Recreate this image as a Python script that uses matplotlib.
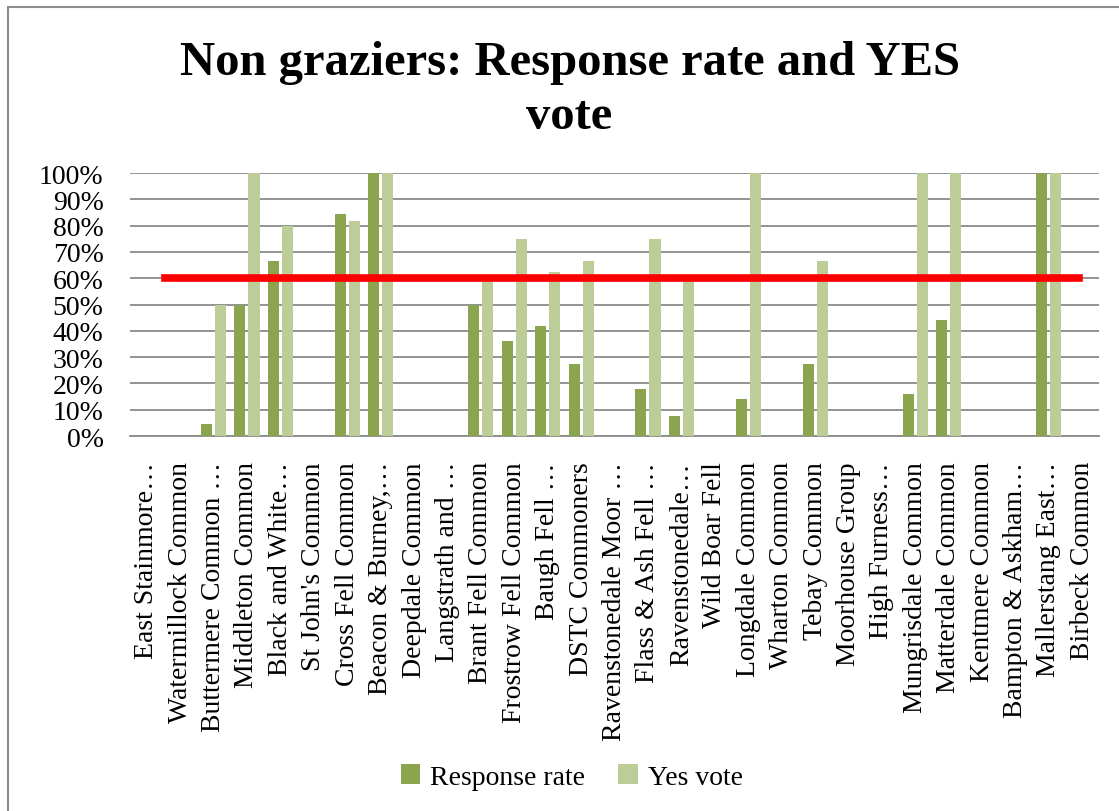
import numpy as np
import matplotlib
matplotlib.use("Agg")
import matplotlib.pyplot as plt
from matplotlib.patches import Rectangle
from matplotlib.ticker import PercentFormatter

# commons, in survey order
commons = [
    "East Stainmore…", "Watermillock Common", "Buttermere Common …",
    "Middleton Common", "Black and White…", "St John's Common",
    "Cross Fell Common", "Beacon & Burney,…", "Deepdale Common",
    "Langstrath and …", "Brant Fell Common", "Frostrow Fell Common",
    "Baugh Fell …", "DSTC Commoners", "Ravenstonedale Moor …",
    "Flass & Ash Fell …", "Ravenstonedale…", "Wild Boar Fell",
    "Longdale Common", "Wharton Common", "Tebay Common",
    "Moorhouse Group", "High Furness…", "Mungrisdale Common",
    "Matterdale Common", "Kentmere Common", "Bampton & Askham…",
    "Mallerstang East…", "Birbeck Common",
]

response_rate = [
    0, 0, 0.045, 0.50, 0.667, 0, 0.844, 1.00, 0, 0,
    0.50, 0.361, 0.42, 0.273, 0, 0.18, 0.076, 0, 0.142, 0,
    0.273, 0, 0, 0.161, 0.442, 0, 0, 1.00, 0,
]

yes_vote = [
    0, 0, 0.50, 1.00, 0.80, 0, 0.818, 1.00, 0, 0,
    0.60, 0.75, 0.625, 0.667, 0, 0.75, 0.60, 0, 1.00, 0,
    0.667, 0, 0, 1.00, 1.00, 0, 0, 1.00, 0,
]

threshold = 0.60

dark_green = "#8ba54e"
light_green = "#bccd98"
grid_grey = "#8a8a8a"

plt.rcParams["font.family"] = ["Liberation Serif", "DejaVu Serif"]

fig = plt.figure(figsize=(11.19, 8.12), dpi=100)
ax = fig.add_axes([0.1162, 0.4618, 0.8660, 0.3239])

x = np.arange(len(commons))
ax.bar(x - 0.21, response_rate, width=0.33, color=dark_green,
       label="Response rate", zorder=3)
ax.bar(x + 0.21, yes_vote, width=0.33, color=light_green,
       label="Yes vote", zorder=3)

# 60% pass mark
ax.axhline(threshold, xmin=0.036, xmax=0.979, color="#ff0000",
           linewidth=5.5, zorder=4)

ax.set_xlim(-0.5, len(commons) - 0.5)
ax.set_ylim(0, 1)
ax.set_yticks(np.arange(0, 1.01, 0.1))
ax.yaxis.set_major_formatter(PercentFormatter(1.0, decimals=0))
ax.grid(axis="y", color=grid_grey, linewidth=1.3, zorder=0)
ax.set_axisbelow(True)
for side in ["left", "right", "top"]:
    ax.spines[side].set_visible(False)
ax.spines["bottom"].set_color(grid_grey)
ax.spines["bottom"].set_linewidth(1.3)

ax.set_xticks(x)
ax.set_xticklabels(commons, rotation=90, fontsize=20)
ax.tick_params(axis="x", length=0, pad=18)
ax.tick_params(axis="y", length=0, pad=19, labelsize=20)

fig.text(0.509, 0.889, "Non graziers: Response rate and YES\nvote",
         ha="center", va="center", fontsize=35, fontweight="bold",
         linespacing=1.3)

fig.legend(loc="center", bbox_to_anchor=(0.511, 0.042), ncol=2,
           frameon=False, fontsize=20, handlelength=0.7,
           handleheight=0.7, handletextpad=0.35, columnspacing=1.2)

# chart area border
fig.patches.append(Rectangle((8 / 1119, -0.05), 1.2, 1 - 8 / 812 + 0.05,
                             transform=fig.transFigure, fill=False,
                             edgecolor="#8c8c8c", linewidth=1.5))

fig.savefig("out.png", dpi=100)
